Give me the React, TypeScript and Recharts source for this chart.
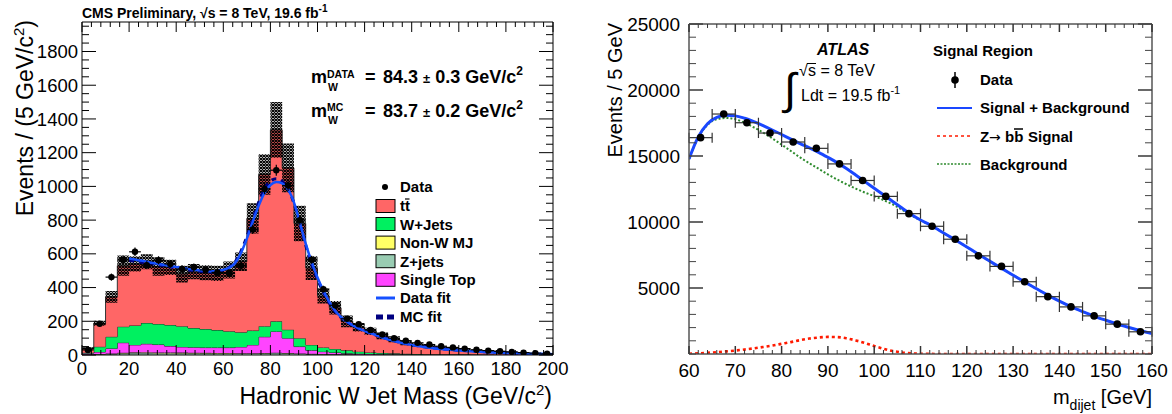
import React from "react";
import {
  ComposedChart,
  Area,
  Line,
  Scatter,
  ErrorBar,
  XAxis,
  YAxis,
  ReferenceLine
} from "recharts";

const FONT = '"Liberation Sans", Arial, Helvetica, sans-serif';

// ---------- left panel: hadronic W jet mass, 5 GeV bins ----------
const binLow = [
  0, 5, 10, 15, 20, 25, 30, 35, 40, 45, 50, 55, 60, 65, 70, 75, 80, 85, 90, 95,
  100, 105, 110, 115, 120, 125, 130, 135, 140, 145, 150, 155, 160, 165, 170, 175, 180, 185, 190, 195
];
const zJets = [2, 4, 6, 10, 12, 12, 11, 11, 10, 10, 10, 9, 9, 9, 9, 10, 12, 10, 8, 6, 5, 4, 3, 3, 2, 2, 2, 2, 1, 1, 1, 1, 1, 1, 1, 0, 0, 0, 0, 0];
const nonWMJ = [1, 2, 3, 4, 4, 5, 4, 4, 5, 4, 3, 3, 3, 2, 2, 2, 2, 2, 1, 1, 1, 1, 1, 0, 0, 0, 0, 0, 0, 0, 0, 0, 0, 0, 0, 0, 0, 0, 0, 0];
const singleTop = [8, 12, 30, 59, 44, 49, 47, 38, 33, 32, 31, 32, 32, 37, 49, 96, 126, 88, 41, 21, 14, 10, 6, 5, 4, 3, 3, 2, 2, 2, 1, 1, 1, 1, 1, 0, 0, 0, 0, 0];
const wJets = [3, 31, 69, 95, 115, 124, 122, 125, 123, 114, 110, 104, 97, 87, 85, 63, 60, 50, 50, 32, 25, 21, 18, 12, 9, 7, 5, 4, 3, 2, 2, 2, 2, 1, 1, 1, 1, 1, 1, 0];
const ttbar = [24, 139, 237, 362, 365, 363, 341, 342, 309, 334, 334, 336, 363, 418, 665, 899, 1135, 960, 680, 455, 305, 244, 172, 145, 125, 101, 83, 64, 54, 45, 38, 32, 26, 23, 19, 17, 14, 11, 8, 7];
const mcErr = [8, 15, 35, 60, 45, 45, 55, 45, 50, 45, 45, 45, 50, 55, 90, 120, 165, 145, 105, 70, 45, 40, 35, 25, 22, 20, 18, 14, 12, 10, 9, 8, 7, 6, 5, 5, 4, 4, 3, 3];
const dataW = [30, 185, 462, 565, 612, 533, 562, 540, 510, 520, 505, 490, 485, 530, 745, 985, 1096, 1005, 800, 565, 390, 295, 215, 182, 148, 122, 100, 85, 72, 62, 52, 45, 38, 31, 26, 22, 18, 14, 11, 7];
const dataWErr = [5, 14, 21, 24, 25, 23, 24, 23, 23, 23, 22, 22, 22, 23, 27, 31, 33, 32, 28, 24, 20, 17, 15, 13, 12, 11, 10, 9, 8, 8, 7, 7, 6, 6, 5, 5, 4, 4, 3, 3];

const fitMass = [
  20, 22.5, 25, 27.5, 30, 32.5, 35, 37.5, 40, 42.5, 45, 47.5, 50, 52.5, 55, 57.5, 60, 62.5, 65, 67.5,
  70, 72.5, 75, 77.5, 80, 82.5, 85, 87.5, 90, 92.5, 95, 97.5, 100, 102.5, 105, 107.5, 110, 112.5, 115, 117.5,
  120, 122.5, 125, 127.5, 130, 132.5, 135, 137.5, 140, 142.5, 145, 147.5, 150, 152.5, 155, 157.5, 160, 162.5, 165, 167.5,
  170, 172.5, 175, 177.5, 180, 182.5, 185, 187.5, 190, 192.5, 195, 197.5, 200
];
const dataFit = [
  572, 566, 560, 553, 546, 540, 534, 528, 522, 516, 511, 506, 502, 499, 497, 498, 505, 518, 545, 605,
  690, 790, 885, 962, 1008, 1026, 1018, 982, 905, 785, 660, 552, 460, 382, 315, 263, 225, 198, 176, 158,
  143, 130, 118, 104, 93, 83, 74, 66, 59, 53, 48, 43, 39, 35, 32, 29, 26, 24, 22, 20,
  18, 16, 15, 13, 12, 11, 10, 9, 8, 7, 7, 6, 5
];
const mcFit = [
  560, 556, 551, 546, 540, 534, 528, 522, 516, 510, 505, 501, 497, 494, 493, 495, 503, 520, 552, 615,
  702, 805, 905, 985, 1032, 1046, 1030, 985, 900, 778, 650, 540, 448, 372, 308, 258, 222, 195, 174, 157,
  142, 129, 117, 106, 95, 85, 76, 68, 61, 55, 50, 45, 41, 37, 34, 31, 28, 26, 24, 22,
  20, 18, 16, 15, 13, 12, 11, 10, 9, 8, 7, 7, 6
];

const leftXLabels = [0, 20, 40, 60, 80, 100, 120, 140, 160, 180, 200];
const leftYLabels = [0, 200, 400, 600, 800, 1000, 1200, 1400, 1600, 1800];

// ---------- right panel: dijet mass ----------
const dijetX = [
  60, 62, 64, 66, 68, 70, 72, 74, 76, 78, 80, 82, 84, 86, 88, 90, 92, 94, 96, 98,
  100, 102, 104, 106, 108, 110, 112, 114, 116, 118, 120, 122, 124, 126, 128, 130, 132, 134, 136, 138,
  140, 142, 144, 146, 148, 150, 152, 154, 156, 158, 160
];
const sigPlusBkg = [
  14780, 16450, 17450, 17930, 18080, 18040, 17860, 17600, 17300, 16970, 16630, 16280, 15940, 15620, 15280, 14900, 14500, 14050, 13560, 13060,
  12560, 12060, 11560, 11060, 10560, 10150, 9790, 9380, 8960, 8540, 8110, 7670, 7240, 6810, 6390, 5970, 5560, 5150, 4750, 4370,
  4010, 3670, 3360, 3070, 2800, 2560, 2330, 2110, 1910, 1720, 1550
];
const zbbSignal = [
  20, 50, 90, 140, 200, 260, 340, 430, 530, 640, 770, 900, 1050, 1170, 1250, 1295, 1280, 1190, 1030, 830,
  600, 400, 230, 120, 55, 22, 8, 3, 0, 0, 0, 0, 0, 0, 0, 0, 0, 0, 0, 0,
  0, 0, 0, 0, 0, 0, 0, 0, 0, 0, 0
];
const background = [
  14760, 16400, 17360, 17790, 17880, 17780, 17520, 17170, 16770, 16330, 15860, 15380, 14890, 14450, 14030, 13605, 13220, 12860, 12530, 12230,
  11960, 11660, 11330, 10940, 10505, 10128, 9782, 9377, 8960, 8540, 8110, 7670, 7240, 6810, 6390, 5970, 5560, 5150, 4750, 4370,
  4010, 3670, 3360, 3070, 2800, 2560, 2330, 2110, 1910, 1720, 1550
];
const dijetBinCenter = [62.5, 67.5, 72.5, 77.5, 82.5, 87.5, 92.5, 97.5, 102.5, 107.5, 112.5, 117.5, 122.5, 127.5, 132.5, 137.5, 142.5, 147.5, 152.5, 157.5];
const dijetData = [16390, 18180, 17520, 16740, 16060, 15580, 14400, 13145, 11940, 10634, 9675, 8695, 7436, 6636, 5475, 4344, 3567, 2888, 2262, 1682];
const dijetErr = [128, 135, 132, 129, 127, 125, 120, 115, 109, 103, 98, 93, 86, 81, 74, 66, 60, 54, 48, 41];

const rightXLabels = [60, 70, 80, 90, 100, 110, 120, 130, 140, 150, 160];
const rightYLabels = [5000, 10000, 15000, 20000, 25000];

// ---------- table building ----------
const steps = (a: number, b: number, s: number) => {
  const out: number[] = [];
  for (let v = a; v <= b; v += s) out.push(v);
  return out;
};

const leftXs = Array.from(new Set([...binLow, ...fitMass])).sort((a, b) => a - b);
const leftRows = leftXs.map((x) => {
  let b = 0;
  binLow.forEach((l, i) => { if (l <= x) b = i; });
  const tot = zJets[b] + nonWMJ[b] + singleTop[b] + wJets[b] + ttbar[b];
  const fi = fitMass.indexOf(x);
  return {
    x,
    zj: zJets[b],
    mj: nonWMJ[b],
    st: singleTop[b],
    wj: wJets[b],
    tt: ttbar[b],
    band: [tot - mcErr[b], tot + mcErr[b]],
    dfit: fi >= 0 ? dataFit[fi] : null,
    mcfit: fi >= 0 ? mcFit[fi] : null
  };
});
const leftPoints = binLow.map((l, i) => ({ x: l + 2.5, y: dataW[i], ex: 2.5, ey: dataWErr[i] }));

const rightRows = dijetX.map((x, i) => ({ x, sb: sigPlusBkg[i], sig: zbbSignal[i], bkg: background[i] }));
const rightPoints = dijetBinCenter.map((x, i) => ({ x, y: dijetData[i], ex: 2.5, ey: dijetErr[i] }));

// plot frame geometry (chart-local)
const L_W = 580, L_H = 414, L_TOP = 22, L_LEFT = 82, L_RIGHT = 553, L_BOTTOM = 355;
const R_W = 592, R_H = 414, R_TOP = 24, R_LEFT = 109, R_RIGHT = 572, R_BOTTOM = 354;
const L_YMAX = 1975;

const LeftXTick = (p: any) => {
  const v = p.payload.value;
  const major = leftXLabels.includes(v);
  const len = major ? 10 : 5;
  return (
    <g>
      <line x1={p.x} x2={p.x} y1={L_BOTTOM} y2={L_BOTTOM - len} stroke="#000" />
      <line x1={p.x} x2={p.x} y1={L_TOP} y2={L_TOP + len} stroke="#000" />
      {major && (
        <text x={p.x} y={L_BOTTOM + 20} textAnchor="middle" fontSize={18.5} fontFamily={FONT} fill="#000">{v}</text>
      )}
    </g>
  );
};

const LeftYTick = (p: any) => {
  const v = p.payload.value;
  const major = leftYLabels.includes(v);
  const len = major ? 14 : 7;
  return (
    <g>
      <line x1={L_LEFT} x2={L_LEFT + len} y1={p.y} y2={p.y} stroke="#000" />
      <line x1={L_RIGHT} x2={L_RIGHT - len} y1={p.y} y2={p.y} stroke="#000" />
      {major && (
        <text x={L_LEFT - 4} y={p.y} dy="0.36em" textAnchor="end" fontSize={18.5} fontFamily={FONT} fill="#000">{v}</text>
      )}
    </g>
  );
};

const RightXTick = (p: any) => {
  const v = p.payload.value;
  const major = rightXLabels.includes(v);
  const len = major ? 8 : 4;
  return (
    <g>
      <line x1={p.x} x2={p.x} y1={R_BOTTOM} y2={R_BOTTOM - len} stroke="#333" strokeWidth={major ? 1.5 : 1} />
      <line x1={p.x} x2={p.x} y1={R_TOP} y2={R_TOP + len} stroke="#333" strokeWidth={major ? 1.5 : 1} />
      {major && (
        <text x={p.x} y={R_BOTTOM + 23} textAnchor="middle" fontSize={19} fontFamily={FONT} fill="#000">{v}</text>
      )}
    </g>
  );
};

const RightYTick = (p: any) => {
  const v = p.payload.value;
  const major = rightYLabels.includes(v);
  const len = major ? 14 : 7;
  return (
    <g>
      <line x1={R_LEFT} x2={R_LEFT + len} y1={p.y} y2={p.y} stroke="#444" strokeWidth={major ? 1.6 : 1} />
      <line x1={R_RIGHT} x2={R_RIGHT - len} y1={p.y} y2={p.y} stroke="#444" strokeWidth={major ? 1.6 : 1} />
      {major && (
        <text x={R_LEFT - 9} y={p.y} dy="0.36em" textAnchor="end" fontSize={19} fontFamily={FONT} fill="#000">{v}</text>
      )}
    </g>
  );
};

const leftDot = (p: any) => <circle cx={p.cx} cy={p.cy} r={3.2} fill="#000" />;
const rightDot = (p: any) => <circle cx={p.cx} cy={p.cy} r={3.8} fill="#000" />;

function LeftPanel() {
  return (
    <ComposedChart width={L_W} height={L_H} data={leftRows} margin={{ top: L_TOP, right: L_W - L_RIGHT, bottom: 0, left: 0 }}>
      <defs>
        <pattern id="hatch" width="3" height="3" patternUnits="userSpaceOnUse">
          <path d="M0,0 L3,3 M3,0 L0,3" stroke="#000" strokeWidth="1.2" />
        </pattern>
      </defs>
      <Area type="stepAfter" dataKey="zj" stackId="mc" fill="#99CCB2" fillOpacity={1} stroke="#222" strokeWidth={1} isAnimationActive={false} />
      <Area type="stepAfter" dataKey="mj" stackId="mc" fill="#FFFF66" fillOpacity={1} stroke="#222" strokeWidth={1} isAnimationActive={false} />
      <Area type="stepAfter" dataKey="st" stackId="mc" fill="#FF44FF" fillOpacity={1} stroke="#222" strokeWidth={1} isAnimationActive={false} />
      <Area type="stepAfter" dataKey="wj" stackId="mc" fill="#00F060" fillOpacity={1} stroke="#222" strokeWidth={1} isAnimationActive={false} />
      <Area type="stepAfter" dataKey="tt" stackId="mc" fill="#FF6666" fillOpacity={1} stroke="#333" strokeWidth={1} isAnimationActive={false} />
      <Area type="stepAfter" dataKey="band" fill="url(#hatch)" fillOpacity={1} stroke="none" isAnimationActive={false} />
      <Line type="monotone" dataKey="mcfit" stroke="#000080" strokeWidth={3} strokeDasharray="5 5" dot={false} isAnimationActive={false} />
      <Line type="monotone" dataKey="dfit" stroke="#1550FF" strokeWidth={2.5} dot={false} isAnimationActive={false} />
      <Scatter data={leftPoints} dataKey="y" shape={leftDot} isAnimationActive={false}>
        <ErrorBar dataKey="ey" direction="y" width={0} stroke="#000" strokeWidth={1.2} />
        <ErrorBar dataKey="ex" direction="x" width={0} stroke="#000" strokeWidth={1.2} />
      </Scatter>
      <ReferenceLine y={L_YMAX} stroke="#000" />
      <ReferenceLine x={200} stroke="#000" />
      <XAxis type="number" dataKey="x" domain={[0, 200]} ticks={steps(0, 200, 4)} interval={0}
        tick={LeftXTick} tickLine={false} tickSize={0} tickMargin={0} height={L_H - L_BOTTOM}
        axisLine={{ stroke: "#000" }} allowDataOverflow />
      <YAxis type="number" domain={[0, L_YMAX]} ticks={steps(0, 1950, 50)} interval={0}
        tick={LeftYTick} tickLine={false} tickSize={0} tickMargin={0} width={L_LEFT}
        axisLine={{ stroke: "#000" }} allowDataOverflow />
    </ComposedChart>
  );
}

function RightPanel() {
  return (
    <ComposedChart width={R_W} height={R_H} data={rightRows} margin={{ top: R_TOP, right: R_W - R_RIGHT, bottom: 0, left: 0 }}>
      <Line type="monotone" dataKey="sig" stroke="#FF1A00" strokeWidth={2.6} strokeDasharray="3 3" dot={false} isAnimationActive={false} />
      <Line type="monotone" dataKey="bkg" stroke="#2E8B2E" strokeWidth={2} strokeDasharray="2 2" dot={false} isAnimationActive={false} />
      <Line type="monotone" dataKey="sb" stroke="#1A47FF" strokeWidth={3} dot={false} isAnimationActive={false} />
      <Scatter data={rightPoints} dataKey="y" shape={rightDot} isAnimationActive={false}>
        <ErrorBar dataKey="ey" direction="y" width={0} stroke="#222" strokeWidth={1.2} />
        <ErrorBar dataKey="ex" direction="x" width={5} stroke="#333" strokeWidth={1.2} />
      </Scatter>
      <ReferenceLine y={25000} stroke="#555" strokeWidth={1.5} />
      <ReferenceLine x={160} stroke="#555" strokeWidth={1.5} />
      <XAxis type="number" dataKey="x" domain={[60, 160]} ticks={steps(60, 160, 2)} interval={0}
        tick={RightXTick} tickLine={false} tickSize={0} tickMargin={0} height={R_H - R_BOTTOM}
        axisLine={{ stroke: "#555", strokeWidth: 1.5 }} allowDataOverflow />
      <YAxis type="number" domain={[0, 25000]} ticks={steps(0, 25000, 1000)} interval={0}
        tick={RightYTick} tickLine={false} tickSize={0} tickMargin={0} width={R_LEFT}
        axisLine={{ stroke: "#555", strokeWidth: 1.5 }} allowDataOverflow />
    </ComposedChart>
  );
}

const legendRows = [
  { label: "W+Jets", fill: "#00F060" },
  { label: "Non-W MJ", fill: "#FFFF66" },
  { label: "Z+jets", fill: "#99CCB2" },
  { label: "Single Top", fill: "#FF44FF" }
];

function Annotations() {
  const t = { fontFamily: FONT, fill: "#000" };
  return (
    <svg width={1172} height={414} style={{ position: "absolute", left: 0, top: 0, pointerEvents: "none" }}>
      {/* left panel texts */}
      <text x={82} y={18} fontSize={14} fontWeight="bold" {...t}>
        CMS Preliminary, √s = 8 TeV, 19.6 fb<tspan dy={-6} fontSize={10}>-1</tspan>
      </text>
      <text transform="translate(33,20) rotate(-90)" textAnchor="end" fontSize={23} {...t}>
        Events / (5 GeV/c<tspan dy={-9} fontSize={15}>2</tspan><tspan dy={9}>)</tspan>
      </text>
      <text x={552} y={404} textAnchor="end" fontSize={23} {...t}>
        Hadronic W Jet Mass (GeV/c<tspan dy={-9} fontSize={15}>2</tspan><tspan dy={9}>)</tspan>
      </text>

      <g fontWeight="bold">
        <text x={311} y={83} fontSize={18} {...t}>m</text>
        <text x={327} y={78} fontSize={10.5} {...t}>DATA</text>
        <text x={328} y={91} fontSize={10.5} {...t}>W</text>
        <text x={365} y={83} fontSize={18} {...t}>=</text>
        <text x={383} y={83} fontSize={18} {...t}>
          84.3 <tspan fontSize={13}>±</tspan> 0.3 GeV/c<tspan dy={-8} fontSize={12}>2</tspan>
        </text>
        <text x={311} y={117} fontSize={18} {...t}>m</text>
        <text x={327} y={111} fontSize={10.5} {...t}>MC</text>
        <text x={328} y={124} fontSize={10.5} {...t}>W</text>
        <text x={365} y={117} fontSize={18} {...t}>=</text>
        <text x={383} y={117} fontSize={18} {...t}>
          83.7 <tspan fontSize={13}>±</tspan> 0.2 GeV/c<tspan dy={-8} fontSize={12}>2</tspan>
        </text>
      </g>

      <g fontWeight="bold" fontSize={15}>
        <circle cx={385} cy={187} r={3} fill="#000" />
        <text x={400} y={192} {...t}>Data</text>
        <rect x={376} y={199.5} width={19} height={13} fill="#FF6666" stroke="#000" />
        <text x={400} y={211} {...t}>tt</text>
        <line x1={405} x2={409.5} y1={199} y2={199} stroke="#000" strokeWidth={1.2} />
        {legendRows.map((r, i) => (
          <g key={r.label}>
            <rect x={376} y={217.5 + i * 18.6} width={19} height={13} fill={r.fill} stroke="#000" />
            <text x={400} y={229.5 + i * 18.6} {...t}>{r.label}</text>
          </g>
        ))}
        <line x1={376} x2={395} y1={298} y2={298} stroke="#1550FF" strokeWidth={3} />
        <text x={400} y={303} {...t}>Data fit</text>
        <rect x={376} y={314.5} width={7} height={5} fill="#000080" />
        <rect x={387} y={314.5} width={7} height={5} fill="#000080" />
        <text x={400} y={322} {...t}>MC fit</text>
      </g>

      {/* right panel texts */}
      <text transform="translate(622,23) rotate(-90)" textAnchor="end" fontSize={20} {...t}>Events / 5 GeV</text>
      <text x={1152} y={404} textAnchor="end" fontSize={20} {...t}>
        m<tspan dy={6} fontSize={14}>dijet</tspan><tspan dy={-6}> [GeV]</tspan>
      </text>

      <text x={817} y={55} fontSize={16} fontWeight="bold" fontStyle="italic" {...t}>ATLAS</text>
      <text x={799} y={76} fontSize={16} {...t}>√</text>
      <line x1={807} x2={816} y1={63.5} y2={63.5} stroke="#000" strokeWidth={1} />
      <text x={808} y={76} fontSize={16} {...t}>s = 8 TeV</text>
      <text x={784} y={104} fontSize={44} {...t}>∫</text>
      <text x={801} y={101} fontSize={16} {...t}>
        Ldt = 19.5 fb<tspan dy={-7} fontSize={11}>-1</tspan>
      </text>

      <g fontWeight="bold" fontSize={15}>
        <text x={933} y={56} {...t}>Signal Region</text>
        <line x1={955} x2={955} y1={72} y2={88} stroke="#000" strokeWidth={1.5} />
        <circle cx={955} cy={80} r={3.8} fill="#000" />
        <text x={980} y={85} {...t}>Data</text>
        <line x1={937} x2={972} y1={108} y2={108} stroke="#1A47FF" strokeWidth={2} />
        <text x={980} y={113} {...t}>Signal + Background</text>
        <line x1={937} x2={972} y1={136} y2={136} stroke="#FF1A00" strokeWidth={1.6} strokeDasharray="3 3" />
        <text x={980} y={141.5} {...t}>Z</text>
        <text x={989} y={141.5} fontWeight="normal" fontSize={14} fontFamily='"DejaVu Sans", sans-serif' fill="#000">→</text>
        <text x={1005} y={141.5} {...t}>bb</text>
        <line x1={1014} x2={1023} y1={129} y2={129} stroke="#000" strokeWidth={1.5} />
        <text x={1028} y={141.5} {...t}>Signal</text>
        <line x1={937} x2={972} y1={164} y2={164} stroke="#2E8B2E" strokeWidth={1.5} strokeDasharray="2 1.5" />
        <text x={980} y={170} {...t}>Background</text>
      </g>
    </svg>
  );
}

export default function App() {
  return (
    <div style={{ position: "fixed", left: 0, top: 0, width: 1172, height: 414, background: "#fff", overflow: "hidden" }}>
      <div style={{ position: "absolute", left: 0, top: 0 }}>
        <LeftPanel />
      </div>
      <div style={{ position: "absolute", left: 580, top: 0 }}>
        <RightPanel />
      </div>
      <Annotations />
    </div>
  );
}
